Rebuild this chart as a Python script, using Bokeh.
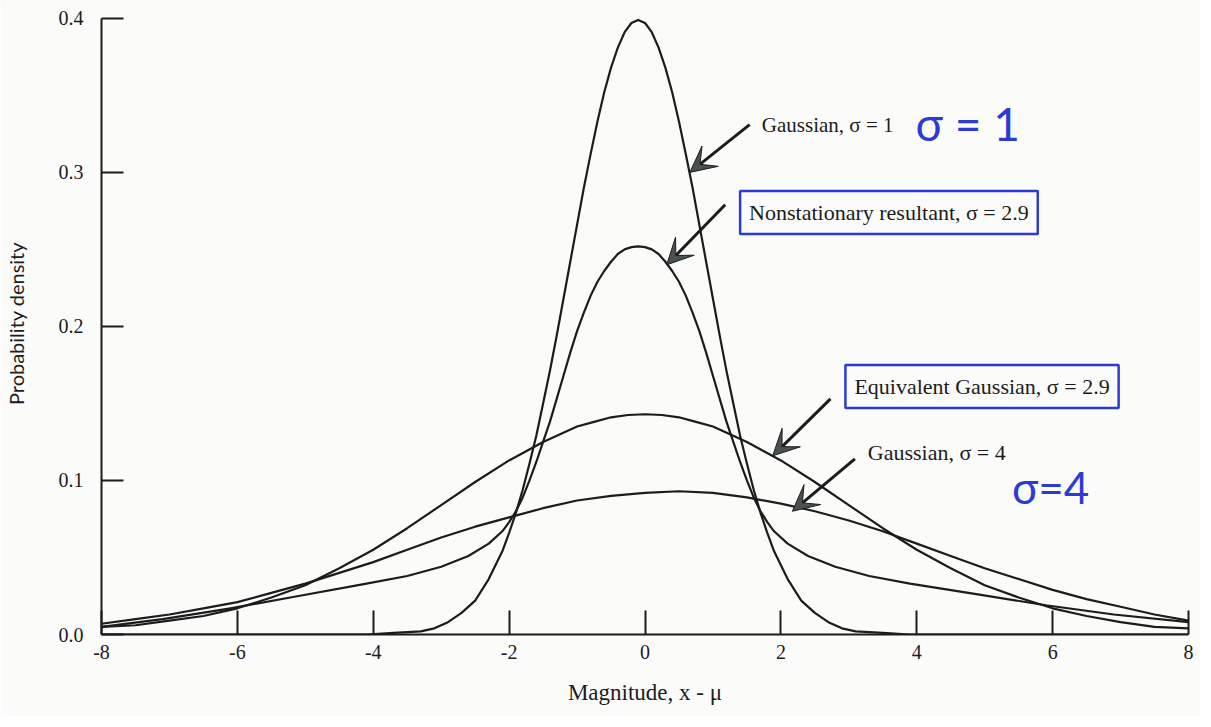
from bokeh.plotting import figure
from bokeh.models import Range1d, FixedTicker, Arrow, VeeHead, Label
from bokeh.embed import file_html
from bokeh.resources import INLINE

# ---- axis ticks ----
x_ticks = [-8, -6, -4, -2, 0, 2, 4, 6, 8]
x_tick_labels = ["-8", "-6", "-4", "-2", "0", "2", "4", "6", "8"]
y_ticks = [0.0, 0.1, 0.2, 0.3, 0.4]
y_tick_labels = ["0.0", "0.1", "0.2", "0.3", "0.4"]

# ---- Gaussian, sigma = 1 ----
g1_x = [-8, -4.1, -3.7, -3.3, -3.1, -2.9, -2.7, -2.5, -2.3, -2.1,
        -2.0, -1.9, -1.8, -1.7, -1.6, -1.5, -1.4, -1.3, -1.2, -1.1,
        -1.0, -0.9, -0.8, -0.7, -0.6, -0.5, -0.4, -0.3, -0.2, -0.1,
        0.0, 0.1, 0.2, 0.3, 0.4, 0.5, 0.6, 0.7, 0.8, 0.9,
        1.0, 1.1, 1.2, 1.3, 1.4, 1.5, 1.6, 1.7, 1.8, 1.9,
        2.1, 2.3, 2.5, 2.7, 2.9, 3.1, 3.5, 3.9, 8]
g1_y = [0.0, 0.000, 0.001, 0.002, 0.004, 0.008, 0.014, 0.022, 0.036, 0.054,
        0.066, 0.079, 0.094, 0.111, 0.129, 0.150, 0.171, 0.194, 0.218, 0.242,
        0.266, 0.290, 0.312, 0.333, 0.352, 0.368, 0.381, 0.391, 0.397, 0.399,
        0.397, 0.391, 0.381, 0.368, 0.352, 0.333, 0.312, 0.290, 0.266, 0.242,
        0.218, 0.194, 0.171, 0.150, 0.129, 0.111, 0.094, 0.079, 0.066, 0.054,
        0.036, 0.022, 0.014, 0.008, 0.004, 0.002, 0.001, 0.000, 0.0]

# ---- Nonstationary resultant, sigma = 2.9 ----
ns_x = [-8.0, -7.1, -6.1, -5.1, -4.1, -3.5, -3.0, -2.6, -2.3, -2.1,
        -2.0, -1.9, -1.8, -1.7, -1.6, -1.5, -1.4, -1.3, -1.2, -1.1,
        -1.0, -0.9, -0.8, -0.7, -0.6, -0.5, -0.4, -0.3, -0.2, -0.1,
        0.0, 0.1, 0.2, 0.3, 0.4, 0.5, 0.6, 0.7, 0.8, 0.9,
        1.0, 1.1, 1.2, 1.3, 1.4, 1.5, 1.6, 1.7, 1.8, 1.9,
        2.1, 2.4, 2.8, 3.3, 3.9, 4.9, 5.9, 6.9, 8.0]
ns_y = [0.005, 0.010, 0.017, 0.025, 0.033, 0.038, 0.044, 0.051, 0.059, 0.067,
        0.073, 0.080, 0.089, 0.100, 0.112, 0.125, 0.138, 0.153, 0.168, 0.183,
        0.197, 0.209, 0.220, 0.229, 0.236, 0.242, 0.247, 0.250, 0.2515, 0.252,
        0.2515, 0.250, 0.247, 0.242, 0.236, 0.229, 0.220, 0.209, 0.197, 0.183,
        0.168, 0.153, 0.138, 0.125, 0.112, 0.100, 0.089, 0.080, 0.073, 0.067,
        0.059, 0.051, 0.044, 0.038, 0.033, 0.026, 0.019, 0.013, 0.008]

# ---- Equivalent Gaussian, sigma = 2.9 ----
eq_x = [-8, -7.5, -7, -6.5, -6, -5.5, -5, -4.5, -4, -3.5, -3, -2.5,
        -2.0, -1.75, -1.5, -1.25, -1.0, -0.75, -0.5, -0.25, 0.0,
        0.25, 0.5, 0.75, 1.0, 1.25, 1.5, 1.75, 2.0,
        2.5, 3, 3.5, 4, 4.5, 5, 5.5, 6, 6.5, 7, 7.5, 8]
eq_y = [0.005, 0.006, 0.009, 0.012, 0.017, 0.024, 0.032, 0.043, 0.055, 0.069, 0.084, 0.099,
        0.113, 0.119, 0.125, 0.130, 0.135, 0.138, 0.141, 0.1425, 0.143,
        0.1425, 0.141, 0.138, 0.135, 0.130, 0.125, 0.119, 0.113,
        0.099, 0.084, 0.069, 0.055, 0.043, 0.032, 0.024, 0.017, 0.012, 0.008, 0.005, 0.004]

# ---- Gaussian, sigma = 4 ----
g4_x = [-8, -7.5, -7, -6.5, -6, -5.5, -5, -4.5, -4, -3.5, -3, -2.5, -2, -1.5, -1, -0.5,
        0, 0.5, 1, 1.5, 2, 2.5, 3, 3.5, 4, 4.5, 5, 5.5, 6, 6.5, 7, 7.5, 8]
g4_y = [0.007, 0.010, 0.013, 0.017, 0.021, 0.027, 0.033, 0.040, 0.047, 0.055, 0.063,
        0.070, 0.076, 0.082, 0.087, 0.090, 0.092, 0.093, 0.092, 0.089, 0.085, 0.080,
        0.074, 0.067, 0.059, 0.051, 0.043, 0.036, 0.029, 0.023, 0.018, 0.013, 0.009]

SERIF = "Liberation Serif"
INK = "#1c1c1c"
BLUE = "#2d3bd4"
PAPER = "#fbfbf9"

p = figure(width=1200, height=716, x_range=Range1d(-8, 8), y_range=Range1d(0, 0.4038),
           output_backend="svg", toolbar_location=None,
           min_border_left=97, min_border_right=12, min_border_top=12, min_border_bottom=82)
p.outline_line_color = None
p.xgrid.visible = False
p.ygrid.visible = False
p.background_fill_color = PAPER
p.border_fill_color = PAPER

for xs, ys in [(g1_x, g1_y), (ns_x, ns_y), (eq_x, eq_y), (g4_x, g4_y)]:
    p.line(xs, ys, line_color=INK, line_width=2.2, line_join="round")

xa = p.xaxis[0]
xa.ticker = FixedTicker(ticks=x_ticks)
xa.major_label_overrides = {t: l for t, l in zip(x_ticks, x_tick_labels)}
xa.bounds = (-8, 8)
xa.major_tick_in = 24
xa.major_tick_out = 0
xa.minor_tick_line_color = None
xa.axis_line_width = 2
xa.axis_line_color = INK
xa.major_tick_line_width = 2
xa.major_tick_line_color = INK
xa.major_label_text_font = SERIF
xa.major_label_text_font_size = "20px"
xa.major_label_text_color = INK
xa.major_label_standoff = 10
xa.axis_label = "Magnitude, x - μ"
xa.axis_label_text_font = SERIF
xa.axis_label_text_font_size = "23px"
xa.axis_label_text_font_style = "normal"
xa.axis_label_text_color = INK
xa.axis_label_standoff = 18

ya = p.yaxis[0]
ya.ticker = FixedTicker(ticks=y_ticks)
ya.major_label_overrides = {t: l for t, l in zip(y_ticks, y_tick_labels)}
ya.bounds = (0, 0.4)
ya.major_tick_in = 22
ya.major_tick_out = 0
ya.minor_tick_line_color = None
ya.axis_line_width = 2
ya.axis_line_color = INK
ya.major_tick_line_width = 2
ya.major_tick_line_color = INK
ya.major_label_text_font = SERIF
ya.major_label_text_font_size = "20px"
ya.major_label_text_color = INK
ya.major_label_standoff = 18
ya.axis_label = "Probability density"
ya.axis_label_text_font = "Lato"
ya.axis_label_text_font_size = "20px"
ya.axis_label_text_font_style = "normal"
ya.axis_label_text_color = INK
ya.axis_label_standoff = 28


def arrow(xs, ys, xe, ye):
    p.add_layout(Arrow(end=VeeHead(size=26, fill_color="#4a5151", line_color=INK, line_width=1),
                       x_start=xs, y_start=ys, x_end=xe, y_end=ye,
                       line_width=3, line_color=INK))


def note(x, y, text, size, boxed=False):
    kw = dict(x=x, y=y, text=text, text_font=SERIF, text_font_size=size,
              text_baseline="middle", text_color=INK)
    if boxed:
        kw.update(border_line_color=BLUE, border_line_width=2.5,
                  background_fill_color=PAPER, padding=9)
    p.add_layout(Label(**kw))


# Gaussian sigma = 1
note(1.72, 0.331, "Gaussian, σ = 1", "21px")
arrow(1.54, 0.331, 0.66, 0.300)
# Nonstationary resultant
note(1.40, 0.274, "Nonstationary resultant, σ = 2.9", "22px", boxed=True)
arrow(1.18, 0.279, 0.32, 0.240)
# Equivalent Gaussian
note(2.95, 0.161, "Equivalent Gaussian, σ = 2.9", "22px", boxed=True)
arrow(2.73, 0.153, 1.88, 0.116)
# Gaussian sigma = 4
note(3.28, 0.118, "Gaussian, σ = 4", "22px")
arrow(3.09, 0.114, 2.17, 0.080)

# handwritten notes
p.add_layout(Label(x=4.75, y=0.332, text="σ = 1", text_font="Lato", text_font_size="46px",
                   text_color=BLUE, text_align="center", text_baseline="middle"))
p.add_layout(Label(x=5.97, y=0.096, text="σ=4", text_font="Lato", text_font_size="44px",
                   text_color=BLUE, text_align="center", text_baseline="middle"))

open("out.html", "w").write(file_html(p, INLINE))
